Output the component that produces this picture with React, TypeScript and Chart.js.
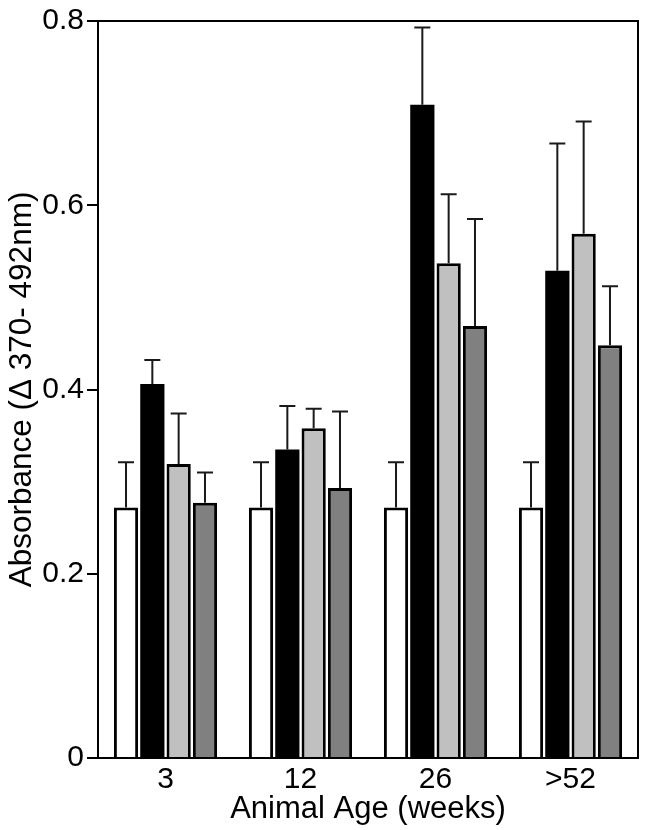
import React, { useEffect, useRef } from "react";
import { Chart, registerables } from "chart.js";

Chart.register(...registerables);

const categories = ["3", "12", "26", ">52"];
const yTicks = [0, 0.2, 0.4, 0.6, 0.8];

// bar heights
const whiteValues = [0.272, 0.272, 0.272, 0.272];
const blackValues = [0.406, 0.335, 0.709, 0.529];
const lightValues = [0.319, 0.358, 0.537, 0.569];
const darkValues = [0.277, 0.293, 0.469, 0.448];

// upper ends of the error bars
const whiteUpper = [0.321, 0.321, 0.321, 0.321];
const blackUpper = [0.432, 0.382, 0.793, 0.667];
const lightUpper = [0.374, 0.379, 0.612, 0.691];
const darkUpper = [0.31, 0.376, 0.585, 0.512];

const seriesValues = [whiteValues, blackValues, lightValues, darkValues];
const seriesUpper = [whiteUpper, blackUpper, lightUpper, darkUpper];
const seriesColors = ["#ffffff", "#000000", "#c0c0c0", "#808080"];
const seriesBorderWidths = [3, 0, 3, 3];

const FONT = "'Liberation Sans', Arial, Helvetica, sans-serif";

const errorBarPlugin = {
  id: "errorBars",
  afterDatasetsDraw(chart: any) {
    const ctx = chart.ctx;
    const y = chart.scales.y;
    ctx.save();
    ctx.strokeStyle = "#1a1a1a";
    ctx.lineWidth = 2;
    seriesUpper.forEach((upper, i) => {
      const meta = chart.getDatasetMeta(i);
      meta.data.forEach((el: any, j: number) => {
        const top = y.getPixelForValue(upper[j]);
        ctx.beginPath();
        ctx.moveTo(el.x, el.y);
        ctx.lineTo(el.x, top);
        ctx.moveTo(el.x - 8, top);
        ctx.lineTo(el.x + 8, top);
        ctx.stroke();
      });
    });
    ctx.restore();
  },
};

const framePlugin = {
  id: "frame",
  afterDraw(chart: any) {
    const { ctx, chartArea } = chart;
    ctx.save();
    ctx.strokeStyle = "#000";
    ctx.lineWidth = 2;
    ctx.strokeRect(
      chartArea.left,
      chartArea.top,
      chartArea.right - chartArea.left,
      chartArea.bottom - chartArea.top
    );
    ctx.restore();
  },
};

export default function App() {
  const ref = useRef<HTMLCanvasElement | null>(null);

  useEffect(() => {
    document.body.style.margin = "0";
    const canvas = ref.current;
    if (!canvas) return;
    const chart = new Chart(canvas, {
      type: "bar",
      data: {
        labels: categories,
        datasets: seriesValues.map((vals, i) => ({
          data: vals,
          backgroundColor: seriesColors[i],
          borderColor: "#000",
          borderWidth: seriesBorderWidths[i],
          borderSkipped: "start",
          categoryPercentage: 0.78,
          barPercentage: 0.92,
        })),
      },
      options: {
        responsive: false,
        animation: false,
        devicePixelRatio: 1,
        layout: { padding: { top: 20, right: 11, left: 0, bottom: 0 } },
        plugins: {
          legend: { display: false },
          tooltip: { enabled: false },
        },
        scales: {
          x: {
            grid: { display: false, drawTicks: false },
            border: { display: true, color: "#000", width: 2 },
            ticks: {
              color: "#000",
              font: { family: FONT, size: 30 },
              padding: 4,
              maxRotation: 0,
            },
            title: {
              display: true,
              text: "Animal Age (weeks)",
              color: "#000",
              font: { family: FONT, size: 31 },
              padding: { top: 0, bottom: 2 },
            },
            afterFit(scale: any) {
              scale.height = 72;
            },
          },
          y: {
            min: 0,
            max: 0.8,
            afterBuildTicks(scale: any) {
              scale.ticks = yTicks.map((v) => ({ value: v }));
            },
            grid: {
              drawOnChartArea: false,
              drawTicks: true,
              tickLength: 11,
              color: "#000",
              lineWidth: 2,
            },
            border: { display: true, color: "#000", width: 2 },
            ticks: {
              color: "#000",
              font: { family: FONT, size: 30 },
              padding: 3,
              callback: (v: any) => (Number(v) === 0 ? "0" : Number(v).toFixed(1)),
            },
            title: {
              display: true,
              text: "Absorbance (\u0394 370- 492nm)",
              color: "#000",
              font: { family: FONT, size: 31.5 },
              padding: { top: 3, bottom: 0 },
            },
            afterFit(scale: any) {
              scale.width = 98;
            },
          },
        },
      },
      plugins: [errorBarPlugin, framePlugin],
    });
    return () => chart.destroy();
  }, []);

  return (
    <div style={{ width: 649, height: 830 }}>
      <canvas ref={ref} width={649} height={830} style={{ display: "block" }} />
    </div>
  );
}
